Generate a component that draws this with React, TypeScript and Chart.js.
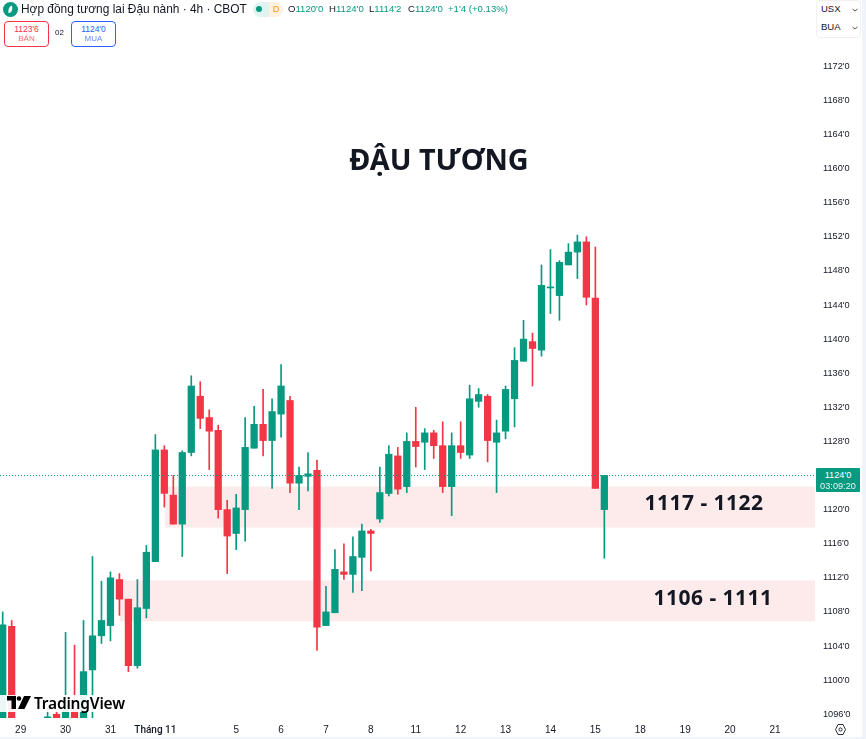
import React, { useEffect, useRef } from "react";
import { Chart, registerables } from "chart.js";

Chart.register(...registerables);

const GREEN = "#089981";
const RED = "#f23645";
const DARK = "#131722";
const SANS = '"Liberation Sans", Arial, sans-serif';

// Three candles at index 2-4 sit below the visible range.
const opens: (number | null)[] = [1090,1106.3,null,null,null,1094,1096,1093,1096.6,1094,1101.2,1105.2,1106.4,1111.8,1109.5,1101.7,1108.4,1113.9,1127,1121.7,1118.3,1126.7,1133.3,1130.8,1129.3,1120,1117.2,1120,1127.2,1130,1128.1,1131.2,1132.8,1123.1,1123.9,1124.6,1106.4,1107.9,1112.7,1112.4,1114.4,1117.5,1118.9,1121.9,1126.3,1122.7,1128,1127.9,1129,1127.5,1122.7,1127.5,1126.4,1132.7,1133.3,1127.9,1129.2,1133,1137.4,1139.7,1138.7,1146,1145.1,1148.7,1150.2,1151.4,1144.8,1120];
const highs: (number | null)[] = [1108,1107,null,null,null,1096.7,1096.6,1105.6,1104.1,1107,1114.5,1111.6,1112.7,1112.5,1109.5,1111.8,1115.8,1128.8,1127.5,1124,1126.9,1135.7,1135,1131.7,1129.9,1121.1,1121.8,1130.8,1132.1,1134.1,1133,1137,1133.3,1125,1126.7,1125.8,1111,1115.3,1116,1116.8,1118.3,1117.7,1125,1127.5,1127.3,1129,1132,1129.5,1129.3,1130.3,1129,1130.3,1134.6,1134.2,1133.5,1130.5,1134.5,1139,1142.2,1140.7,1148.7,1150.5,1149.2,1151.2,1152.2,1152,1150.8,1124];
const lows: (number | null)[] = [1088,1086,null,null,null,1093,1093,1092,1092,1093,1095,1104.3,1104.6,1107.6,1101,1101.4,1107.3,1113.9,1120.3,1118.3,1114.5,1126.3,1129.5,1124.7,1119,1112.5,1115.3,1116.3,1127.2,1126.3,1122.5,1128.5,1122,1120,1122.2,1103.5,1106.4,1107.9,1111.8,1110.3,1110.5,1112.8,1118.5,1121.6,1121.8,1122,1125,1124.7,1126,1122,1119.3,1126,1126,1132,1125.6,1122,1128.3,1129.7,1137.4,1134.5,1138,1143,1142.2,1148.7,1147.1,1144,1122.5,1114.3];
const closes: (number | null)[] = [1106.5,1088,null,null,null,1095.7,1094,1096.6,1093,1101,1105.2,1107,1112,1109.5,1101.7,1108.5,1115,1127,1121.9,1118.3,1126.7,1134.5,1130.7,1129.2,1120,1116.9,1120.2,1127.3,1130,1128.1,1131.5,1134.5,1123.1,1124,1124.2,1106.2,1108,1113,1112.4,1114.5,1117.5,1117.2,1122,1126.5,1122.4,1128,1127.4,1129,1127.5,1122.7,1127.5,1126.7,1133,1133.5,1128.1,1129,1134.1,1137.5,1140,1138.9,1146.3,1146.1,1149,1150.2,1151.4,1144.9,1122.5,1124];

const priceTicks = [1096,1100,1104,1108,1112,1116,1120,1124,1128,1132,1136,1140,1144,1148,1152,1156,1160,1164,1168,1172];
const dateTickIndexes = [2,7,12,17,26,31,36,41,46,51,56,61,66,71,76,81,86];
const dateTickLabels = ["29","30","31","Tháng 11","5","6","7","8","11","12","13","14","15","18","19","20","21"];
const zoneStarts = [18.07, 13.06];
const zoneTops = [1122.7, 1111.7];
const zoneBottoms = [1117.9, 1106.9];
const lastPrice = 1124;
const xMin = -0.3;
const xMax = 90.46;
const yMin = 1095.56;
const yMax = 1179.77;

const zonePlugin = {
  id: "zones",
  beforeDatasetsDraw(chart: any) {
    const { ctx, chartArea, scales } = chart;
    ctx.save();
    ctx.fillStyle = "#fdeaeb";
    zoneStarts.forEach((s, i) => {
      const x = scales.x.getPixelForValue(s);
      const t = scales.y.getPixelForValue(zoneTops[i]);
      const b = scales.y.getPixelForValue(zoneBottoms[i]);
      ctx.fillRect(x, t, chartArea.right - x, b - t);
    });
    ctx.restore();
  },
};

const abs = (o: React.CSSProperties): React.CSSProperties => ({ position: "absolute", whiteSpace: "nowrap", ...o });

function Ohlc({ k, v, x }: { k: string; v: string; x: number }) {
  return (
    <div style={abs({ left: x, top: 3, fontSize: 9.6, lineHeight: "12px", fontFamily: SANS })}>
      <span style={{ color: DARK }}>{k}</span>
      <span style={{ color: GREEN }}>{v}</span>
    </div>
  );
}

function TradeBox({ x, color, price, label }: { x: number; color: string; price: string; label: string }) {
  return (
    <div style={abs({ left: x, top: 21, width: 45, height: 26, boxSizing: "border-box", border: `1px solid ${color}`, borderRadius: 4, textAlign: "center", fontFamily: SANS, color, background: "#fff" })}>
      <div style={{ fontSize: 8.5, lineHeight: "10px", marginTop: 2 }}>{price}</div>
      <div style={{ fontSize: 8, lineHeight: "9px", opacity: 0.75 }}>{label}</div>
    </div>
  );
}

export default function App() {
  const ref = useRef<HTMLCanvasElement>(null);

  useEffect(() => {
    document.body.style.margin = "0";
    const idx = opens.map((_, i) => i).filter((i) => opens[i] !== null);
    const colorOf = (i: number) => ((closes[i] as number) >= (opens[i] as number) ? GREEN : RED);
    const chart = new Chart(ref.current as HTMLCanvasElement, {
      type: "bar",
      data: {
        datasets: [
          {
            label: "wick",
            data: idx.map((i) => ({ x: i, y: [lows[i], highs[i]] })),
            backgroundColor: idx.map(colorOf),
            barThickness: 1,
            borderWidth: 0,
            grouped: false,
            order: 3,
          },
          {
            label: "body",
            data: idx.map((i) => ({ x: i, y: [opens[i], closes[i]] })),
            backgroundColor: idx.map(colorOf),
            barThickness: 6.6,
            minBarLength: 1,
            borderWidth: 0,
            grouped: false,
            order: 2,
          },
          {
            type: "line",
            label: "last",
            data: [{ x: xMin, y: lastPrice }, { x: xMax, y: lastPrice }],
            borderColor: GREEN,
            borderWidth: 1,
            borderDash: [1, 2],
            pointRadius: 0,
            order: 1,
          },
        ] as any,
      },
      options: {
        animation: false,
        responsive: false,
        maintainAspectRatio: false,
        layout: { padding: 0 },
        plugins: { legend: { display: false }, tooltip: { enabled: false } },
        scales: {
          x: {
            type: "linear",
            offset: false,
            min: xMin,
            max: xMax,
            grid: { display: false, drawTicks: false },
            border: { display: false },
            afterFit: (s: any) => { s.height = 19; s.paddingLeft = 0; s.paddingRight = 0; },
            afterBuildTicks: (s: any) => { s.ticks = dateTickIndexes.map((value) => ({ value })); },
            ticks: {
              autoSkip: false,
              maxRotation: 0,
              padding: 6,
              color: DARK,
              font: (c: any) => (c.index === 3 ? { family: "Roboto", size: 10, weight: "500" } : { family: SANS, size: 10, weight: "normal" }),
              callback: (_: any, i: number) => dateTickLabels[i],
            },
          },
          y: {
            position: "right",
            min: yMin,
            max: yMax,
            grid: { display: false, drawTicks: false },
            border: { display: false },
            afterFit: (s: any) => { s.width = 47; s.paddingTop = 0; s.paddingBottom = 0; },
            afterBuildTicks: (s: any) => { s.ticks = priceTicks.map((value) => ({ value })); },
            ticks: {
              autoSkip: false,
              padding: 8,
              color: DARK,
              font: { family: SANS, size: 9.2 },
              callback: (v: any) => `${v}'0`,
            },
          },
        },
      } as any,
      plugins: [zonePlugin],
    });
    return () => chart.destroy();
  }, []);

  return (
    <div style={{ position: "absolute", left: 0, top: 0, width: 866, height: 739, overflow: "hidden", background: "#f0f3fa" }}>
      <canvas ref={ref} width={862} height={737} style={{ display: "block", background: "#fff" }} />

      {/* legend header */}
      <svg style={abs({ left: 3, top: 2 })} width={15} height={15} viewBox="0 0 15 15">
        <circle cx={7.5} cy={7.5} r={7.5} fill={GREEN} />
        <path d="M9 3.5 C6 4.5 5 7 5.5 11 C8 11 10 9 9 3.5Z" fill="#fff" />
      </svg>
      <div style={abs({ left: 21, top: 1, fontFamily: SANS, fontSize: 11.9, lineHeight: "16px", color: DARK })}>
        Hợp đồng tương lai Đậu nành · 4h · CBOT
      </div>
      <div style={abs({ left: 253, top: 2, width: 16, height: 15, background: "#e0f3f0", borderRadius: "8px 0 0 8px" })} />
      <div style={abs({ left: 256, top: 6, width: 6, height: 6, background: GREEN, borderRadius: 3 })} />
      <div style={abs({ left: 269, top: 2, width: 14, height: 15, background: "#fff1e0", borderRadius: "0 8px 8px 0", color: "#f7931a", fontFamily: SANS, fontSize: 9, lineHeight: "15px", textAlign: "center" })}>D</div>
      <Ohlc k="O" v="1120'0" x={288} />
      <Ohlc k="H" v="1124'0" x={329} />
      <Ohlc k="L" v="1114'2" x={369} />
      <Ohlc k="C" v="1124'0" x={408} />
      <div style={abs({ left: 448, top: 3, fontSize: 9.6, lineHeight: "12px", fontFamily: SANS, color: GREEN })}>+1'4 (+0.13%)</div>

      <TradeBox x={4} color={RED} price="1123'6" label="BÁN" />
      <div style={abs({ left: 55, top: 28, fontFamily: SANS, fontSize: 8, lineHeight: "10px", color: DARK })}>02</div>
      <TradeBox x={71} color="#2962ff" price="1124'0" label="MUA" />

      {/* unit selector */}
      <div style={abs({ left: 816, top: 0, width: 45, height: 38, background: "#fff", border: "1px solid #eef0f4", borderRadius: 4, boxSizing: "border-box" })} />
      <div style={abs({ left: 821, top: 3, fontFamily: SANS, fontSize: 9.5, lineHeight: "12px", color: DARK })}>USX</div>
      <div style={abs({ left: 821, top: 21, fontFamily: SANS, fontSize: 9.5, lineHeight: "12px", color: DARK })}>BUA</div>
      <svg style={abs({ left: 852, top: 7 })} width={6} height={22} viewBox="0 0 6 22">
        <path d="M0.5 2 L3 4 L5.5 2 M0.5 20 L3 22 L5.5 20" stroke="#50535e" fill="none" strokeWidth={1} />
      </svg>

      {/* annotations */}
      <div style={abs({ left: 239, width: 400, top: 139, textAlign: "center", fontFamily: '"Noto Sans", sans-serif', fontWeight: 700, fontSize: 28.8, lineHeight: "40px", color: DARK })}>ĐẬU TƯƠNG</div>
      <div style={abs({ left: 604, width: 200, top: 488, textAlign: "center", fontFamily: '"Noto Sans", sans-serif', fontWeight: 700, fontSize: 21, letterSpacing: 0.5, lineHeight: "28px", color: DARK })}>1117 - 1122</div>
      <div style={abs({ left: 613, width: 200, top: 583, textAlign: "center", fontFamily: '"Noto Sans", sans-serif', fontWeight: 700, fontSize: 21, letterSpacing: 0.5, lineHeight: "28px", color: DARK })}>1106 - 1111</div>

      {/* price tag */}
      <div style={abs({ left: 816, top: 468, width: 44, height: 24, background: GREEN, color: "#fff", fontFamily: SANS, textAlign: "center", borderRadius: 1 })}>
        <div style={{ fontSize: 9.2, lineHeight: "11px", marginTop: 2 }}>1124'0</div>
        <div style={{ fontSize: 9.2, lineHeight: "10px", opacity: 0.9 }}>03:09:20</div>
      </div>

      {/* TradingView mark */}
      <div style={abs({ left: 0, top: 695, width: 127, height: 17, background: "rgba(255,255,255,0.92)" })} />
      <svg style={abs({ left: 7, top: 696 })} width={24} height={13} viewBox="0 0 24 13">
        <path d="M0 0 H9 V13 H4.5 V4.5 H0 Z" fill="#000" />
        <circle cx={12} cy={2.5} r={2.3} fill="#000" />
        <path d="M17 0 H24 L17.5 13 H11 Z" fill="#000" />
      </svg>
      <div style={abs({ left: 34, top: 693, fontFamily: '"Noto Sans", sans-serif', fontWeight: 600, fontSize: 15.5, lineHeight: "20px", color: "#000", letterSpacing: -0.2 })}>TradingView</div>

      {/* settings icon */}
      <svg style={abs({ left: 834, top: 723 })} width={13} height={13} viewBox="0 0 13 13">
        <path d="M4 1.5 H9 L11.5 6.5 L9 11.5 H4 L1.5 6.5 Z" fill="none" stroke="#131722" strokeWidth={0.9} />
        <circle cx={6.5} cy={6.5} r={1.6} fill="none" stroke="#131722" strokeWidth={0.9} />
      </svg>
    </div>
  );
}
